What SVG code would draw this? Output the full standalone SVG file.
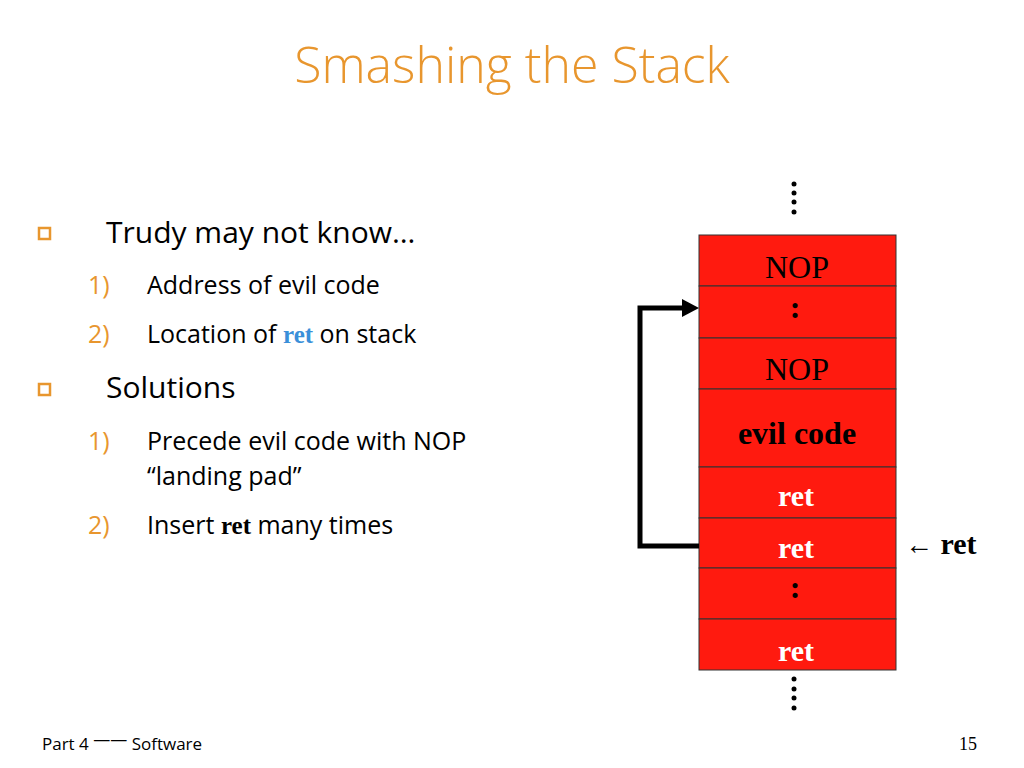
<svg xmlns="http://www.w3.org/2000/svg" width="1024" height="768" viewBox="0 0 1024 768">
<style>
.t{font-family:"Open Sans","Noto Sans",sans-serif;fill:#000}
.n{font-family:"Open Sans","Noto Sans",sans-serif;fill:#E8962E}
.s{font-family:"Liberation Serif",serif}
.cell{fill:#FF1A0F;stroke:#333;stroke-width:1}
.dot{fill:#000}
</style>
<rect width="1024" height="768" fill="#fff"/>
<text x="512" y="83" text-anchor="middle" font-family="Open Sans,sans-serif" font-weight="300" font-size="50" fill="#E8962E">Smashing the Stack</text>
<g id="bullets">
<rect x="39" y="228" width="11" height="11" fill="none" stroke="#E8962E" stroke-width="2.5"/>
<rect x="39" y="384" width="11" height="11" fill="none" stroke="#E8962E" stroke-width="2.5"/>
<text class="t" x="106" y="243" font-size="30">Trudy may not know…</text>
<text class="n" x="88" y="294" font-size="25">1)</text>
<text class="t" x="147" y="294" font-size="25">Address of evil code</text>
<text class="n" x="88" y="343" font-size="25">2)</text>
<text class="t" x="147" y="343" font-size="25">Location of <tspan class="s" font-weight="bold" fill="#3A8FD9">ret</tspan> on stack</text>
<text class="t" x="106" y="398" font-size="30">Solutions</text>
<text class="n" x="88" y="450" font-size="25">1)</text>
<text class="t" x="147" y="450" font-size="25">Precede evil code with NOP</text>
<text class="t" x="147" y="485" font-size="25">“landing pad”</text>
<text class="n" x="88" y="534" font-size="25">2)</text>
<text class="t" x="147" y="534" font-size="25">Insert <tspan class="s" font-weight="bold">ret</tspan> many times</text>
</g>
<g id="stack" class="s" text-anchor="middle">
<g id="c1"><rect class="cell" x="699" y="235" width="197" height="51"/><text x="797" y="278" font-size="32">NOP</text></g>
<g id="c2"><rect class="cell" x="699" y="286" width="197" height="52"/><text x="795" y="318" font-size="32" font-weight="bold">:</text></g>
<g id="c3"><rect class="cell" x="699" y="338" width="197" height="51"/><text x="797" y="380" font-size="32">NOP</text></g>
<g id="c4"><rect class="cell" x="699" y="389" width="197" height="78"/><text x="797" y="444" font-size="32" font-weight="bold">evil code</text></g>
<g id="c5"><rect class="cell" x="699" y="467" width="197" height="51"/><text x="796" y="506" font-size="30" font-weight="bold" fill="#fff">ret</text></g>
<g id="c6"><rect class="cell" x="699" y="518" width="197" height="50"/><text x="796" y="558" font-size="30" font-weight="bold" fill="#fff">ret</text></g>
<g id="c7"><rect class="cell" x="699" y="568" width="197" height="51"/><text x="795" y="598" font-size="32" font-weight="bold">:</text></g>
<g id="c8"><rect class="cell" x="699" y="619" width="197" height="51"/><text x="796" y="661" font-size="30" font-weight="bold" fill="#fff">ret</text></g>
</g>
<g id="dots">
<circle class="dot" cx="794" cy="184" r="2.5"/><circle class="dot" cx="794" cy="193" r="2.5"/><circle class="dot" cx="794" cy="202" r="2.5"/><circle class="dot" cx="794" cy="212" r="2.5"/>
<circle class="dot" cx="794" cy="679" r="2.5"/><circle class="dot" cx="794" cy="689" r="2.5"/><circle class="dot" cx="794" cy="698" r="2.5"/><circle class="dot" cx="794" cy="708" r="2.5"/>
</g>
<g id="connectors">
<polyline points="699,546 640,546 640,308 684,308" fill="none" stroke="#000" stroke-width="5"/>
<polygon points="682,299 699,308 682,317" fill="#000"/>
</g>
<text class="s" x="905" y="554" font-size="30"><tspan font-size="28">←</tspan> <tspan font-weight="bold">ret</tspan></text>
<text x="42" y="750" font-family="Open Sans,sans-serif" font-size="17">Part 4 <tspan dy="-5">——</tspan><tspan dy="5"> Software</tspan></text>
<text x="977" y="750" text-anchor="end" font-family="Liberation Serif,serif" font-size="18">15</text>
</svg>
